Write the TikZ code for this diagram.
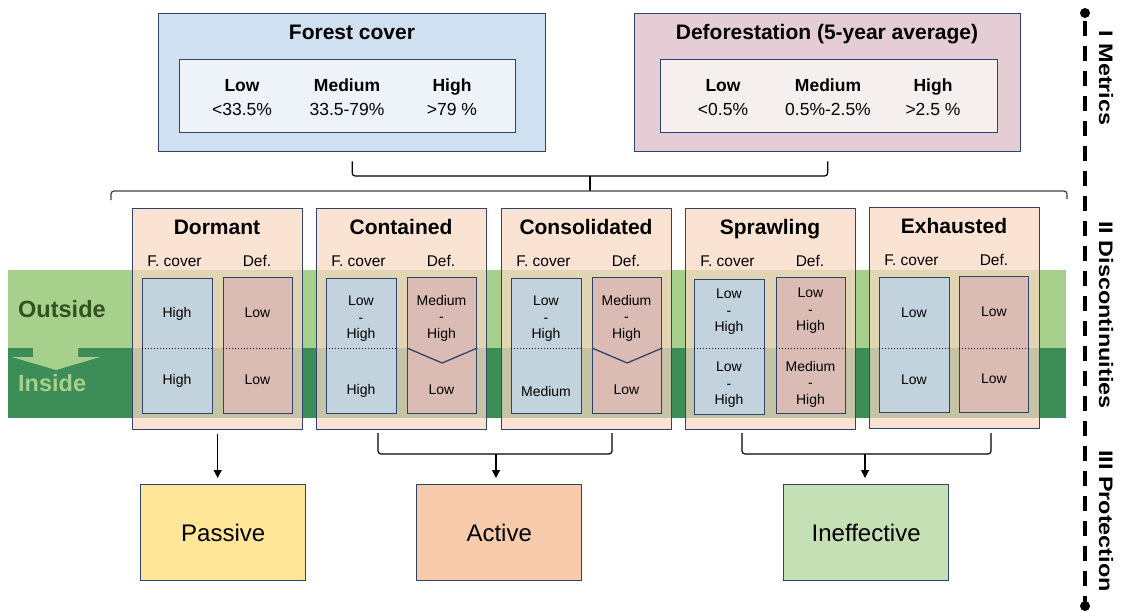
\documentclass[tikz,border=0pt]{standalone}
\usepackage{fontspec}
\setmainfont{Liberation Sans}
\usetikzlibrary{arrows.meta}
\definecolor{navy}{HTML}{2F4468}
\definecolor{fcblue}{HTML}{CFE0F1}
\definecolor{fcinner}{HTML}{EEF3FA}
\definecolor{dfpink}{HTML}{E4CDD4}
\definecolor{dfinner}{HTML}{F5EFF0}
\definecolor{peach}{HTML}{F9D8C4}
\definecolor{cellblue}{HTML}{C3D3DD}
\definecolor{cellpink}{HTML}{DBBCB5}
\definecolor{passivec}{HTML}{FFE699}
\definecolor{activec}{HTML}{F8CBAD}
\definecolor{ineffc}{HTML}{C5E0B4}
\definecolor{lgreen}{HTML}{A8D08D}
\definecolor{dgreen}{HTML}{3C8D57}
\definecolor{outc}{HTML}{345220}
\definecolor{brkgray}{HTML}{404040}
\newcommand\sz[2]{\fontsize{#1}{#2}\selectfont}
\begin{document}
\begin{tikzpicture}[x=1pt,y=-1pt,
  frame/.style={draw=navy, line width=1.35pt, inner sep=0pt, anchor=north west},
  colbox/.style={frame, fill=peach, fill opacity=0.72, minimum width=170pt, minimum height=221pt},
  fcell/.style={frame, fill=cellblue, minimum width=70pt, minimum height=135pt},
  dcell/.style={frame, fill=cellpink, minimum width=69pt, minimum height=136pt},
  ttl/.style={font=\sz{21}{25}\bfseries, inner sep=0pt, anchor=base},
  hd/.style={font=\sz{17.5}{21}\bfseries, inner sep=0pt, anchor=base},
  val/.style={font=\sz{17.5}{21}, inner sep=0pt, anchor=base},
  sub/.style={font=\sz{15.5}{18}, inner sep=0pt, anchor=base},
  cell/.style={font=\sz{14}{16.5}, inner sep=0pt, align=center},
  prot/.style={frame, minimum width=165pt, minimum height=96pt, font=\sz{24}{28}},
  brk/.style={draw=black, line width=1.2pt, rounded corners=3pt},
  arr/.style={draw=black, line width=1.2pt, -{Triangle[width=8pt,length=8pt]}},
  dotl/.style={draw=black, line width=1pt, dotted},
  axlab/.style={font=\sz{19.5}{23}\bfseries, inner sep=0pt, rotate=-90}
]
\useasboundingbox (0,0) rectangle (1121,611);

% ---------- Metrics ----------
\node[frame, fill=fcblue, minimum width=387pt, minimum height=138pt] (fc) at (158,13) {};
\node[frame, fill=fcinner, minimum width=336pt, minimum height=73pt] (fci) at (179,59) {};
\node[ttl] (fct) at (352,39) {Forest cover};
\node[hd] (fcl) at (242,91) {Low};
\node[hd] (fcm) at (347,91) {Medium};
\node[hd] (fch) at (452,91) {High};
\node[val] (fclv) at (242,115) {<33.5\%};
\node[val] (fcmv) at (347,115) {33.5-79\%};
\node[val] (fchv) at (452,115) {>79 \%};

\node[frame, fill=dfpink, minimum width=386pt, minimum height=138pt] (df) at (634,13) {};
\node[frame, fill=dfinner, minimum width=337pt, minimum height=73pt] (dfi) at (660,59) {};
\node[ttl] (dft) at (827,39) {Deforestation (5-year average)};
\node[hd] (dfl) at (723,91) {Low};
\node[hd] (dfm) at (828,91) {Medium};
\node[hd] (dfh) at (933,91) {High};
\node[val] (dflv) at (723,115) {<0.5\%};
\node[val] (dfmv) at (828,115) {0.5\%-2.5\%};
\node[val] (dfhv) at (933,115) {>2.5 \%};

% brackets top
\coordinate (sb) at (590,176);
\coordinate (bb) at (590,191);
\draw[brk] ([yshift=-9pt]fc.south) |- (sb) -| ([yshift=-9pt]df.south);
\draw[brk] (sb) -- (bb);
\draw[brk, draw=brkgray] (111,200) -- (111,191) -- (bb) -- (1067,191) -- (1067,199);

% ---------- bands ----------
\fill[lgreen] (8,270) rectangle (1066,348);
\fill[dgreen] (8,348) rectangle (1066,418);
\fill[lgreen] (33,348) -- (78,348) -- (78,357) -- (100,357) -- (56,370) -- (12,357) -- (33,357) -- cycle;
\node[font=\sz{23.5}{27}\bfseries, text=outc, inner sep=0pt, anchor=base west] (outside) at (18,317) {Outside};
\node[font=\sz{23.5}{27}\bfseries, text=lgreen, inner sep=0pt, anchor=base west] (inside) at (18,391) {Inside};

% ---------- columns ----------
\node[colbox] (dormant) at (132,208) {};
\node[colbox] (contained) at (316,208) {};
\node[colbox] (consolidated) at (501,208) {};
\node[colbox] (sprawling) at (685,208) {};
\node[colbox] (exhausted) at (869,207) {};

\node[ttl] (t1) at (217,234) {Dormant};
\node[ttl] (t2) at (401,234) {Contained};
\node[ttl] (t3) at (586,234) {Consolidated};
\node[ttl] (t4) at (770,234) {Sprawling};
\node[ttl] (t5) at (954,233) {Exhausted};

\foreach \L/\n/\dy in {132/1/0, 316/2/0, 501/3/0, 685/4/0, 869/5/-1}{
  \node[sub] (fl\n) at (\L+42.5,266+\dy) {F. cover};
  \node[sub] (dl\n) at (\L+125,266+\dy) {Def.};
}

% cells
\node[fcell] (f1) at (142,278) {};
\node[dcell] (d1) at (223,277) {};
\node[fcell] (f2) at (326,278) {};
\node[dcell] (d2) at (407,277) {};
\node[fcell] (f3) at (511,278) {};
\node[dcell] (d3) at (592,277) {};
\node[fcell] (f4) at (694,279) {};
\node[dcell] (d4) at (776,277) {};
\node[fcell] (f5) at (879,277) {};
\node[dcell] (d5) at (959,276) {};

\draw[dotl] (f1.west |- 0,348) -- (f1.east |- 0,348);
\draw[dotl] (d1.west |- 0,348) -- (d1.east |- 0,348);
\draw[dotl] (f2.west |- 0,348) -- (f2.east |- 0,348);
\draw[dotl] (f3.west |- 0,348) -- (f3.east |- 0,348);
\draw[dotl] (f4.west |- 0,348) -- (f4.east |- 0,348);
\draw[dotl] (d4.west |- 0,348) -- (d4.east |- 0,348);
\draw[dotl] (f5.west |- 0,348) -- (f5.east |- 0,348);
\draw[dotl] (d5.west |- 0,348) -- (d5.east |- 0,348);
\draw[draw=navy, line width=1.3pt] (d2.west |- 0,348) -- (d2.center |- 0,363) -- (d2.east |- 0,348);
\draw[draw=navy, line width=1.3pt] (d3.west |- 0,348) -- (d3.center |- 0,363) -- (d3.east |- 0,348);

% cell texts
\node[cell] (c1a) at (177,314) {High};
\node[cell] (c1b) at (177,381) {High};
\node[cell] (c1c) at (257.5,313) {Low};
\node[cell] (c1d) at (257.5,380) {Low};

\node[cell] (c2a) at (361,319) {Low\\-\\High};
\node[cell] (c2b) at (361,391) {High};
\node[cell] (c2c) at (441.5,318) {Medium\\-\\High};
\node[cell] (c2d) at (441.5,390) {Low};

\node[cell] (c3a) at (546,319) {Low\\-\\High};
\node[cell] (c3b) at (546,391) {Medium};
\node[cell] (c3c) at (626.5,318) {Medium\\-\\High};
\node[cell] (c3d) at (626.5,390) {Low};

\node[cell] (c4a) at (729,312) {Low\\-\\High};
\node[cell] (c4b) at (729,385) {Low\\-\\High};
\node[cell] (c4c) at (810.5,311) {Low\\-\\High};
\node[cell] (c4d) at (810.5,384) {Medium\\-\\High};

\node[cell] (c5a) at (914,313) {Low};
\node[cell] (c5b) at (914,380) {Low};
\node[cell] (c5c) at (994,312) {Low};
\node[cell] (c5d) at (994,379) {Low};

% ---------- Protection ----------
\node[prot, fill=passivec] (passive) at (140,484) {Passive};
\node[prot, fill=activec] (active) at (416,484) {Active};
\node[prot, fill=ineffc] (ineff) at (783,484) {Ineffective};

\draw[arr, shorten >=6pt] ([yshift=-4pt]dormant.south) -- (dormant.south |- passive.north);

\coordinate (a1) at (378,433);
\coordinate (a2) at (612,433);
\coordinate (am) at (496,454);
\draw[brk] (a1) |- (am) -| (a2);
\draw[arr, shorten >=6pt] (am) -- (am |- active.north);

\coordinate (i1) at (742,433);
\coordinate (i2) at (991,433);
\coordinate (im) at (865,454);
\draw[brk] (i1) |- (im) -| (i2);
\draw[arr, shorten >=6pt] (im) -- (im |- ineff.north);

% ---------- axis ----------
\coordinate (axtop) at (1085,13);
\coordinate (axbot) at (1085,606);
\draw[line width=3.5pt, dash pattern=on 15pt off 10pt, dash phase=-8pt] (axtop) -- (axbot);
\fill (axtop) circle (5);
\fill (axbot) circle (5);
\node[axlab] (lab1) at (1106,78) {\scalebox{1.2}[1]{I Metrics}};
\node[axlab] (lab2) at (1106,315) {\scalebox{1.2}[1]{II Discontinuities}};
\node[axlab] (lab3) at (1106,521) {\scalebox{1.2}[1]{III Protection}};
\end{tikzpicture}
\end{document}
